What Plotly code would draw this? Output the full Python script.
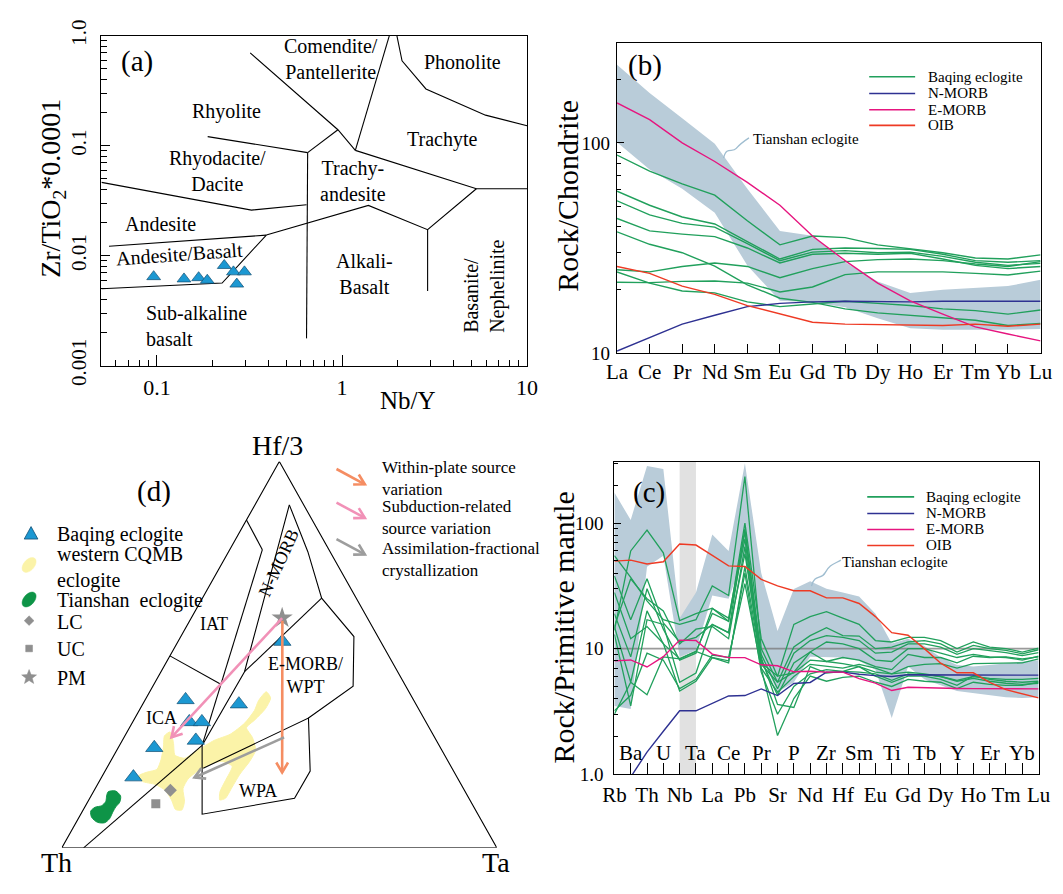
import math
import plotly.graph_objects as go

FONT = "Liberation Serif"
W, H = 1063, 894

# ---------------- (a) Zr/TiO2*0.0001 vs Nb/Y ----------------
a_nb_y = [0.096, 0.140, 0.168, 0.187, 0.231, 0.259, 0.297, 0.270]
a_zr_ti = [0.00645, 0.00615, 0.00631, 0.00598, 0.00815, 0.00713, 0.00713, 0.00552]

a_field_lines = [
    [(0.319, 0.701), (0.95, 0.140), (1.18, 0.0908)],
    [(0.652, 0.0867), (0.95, 0.140)],
    [(1.18, 0.0908), (1.80, 1.0)],
    [(1.98, 1.0), (2.11, 0.593), (2.84, 0.329), (5.96, 0.19), (10.0, 0.152)],
    [(1.18, 0.0908), (5.32, 0.0407), (10.0, 0.0407)],
    [(0.39, 0.0154), (1.388, 0.0287), (2.90, 0.01725), (5.32, 0.0407)],
    [(2.90, 0.01725), (2.90, 0.00477)],
    [(0.652, 0.0867), (0.643, 0.00177)],
    [(0.188, 0.1212), (0.652, 0.0867)],
    [(0.0502, 0.0465), (0.324, 0.0260), (0.643, 0.0291)],
    [(0.0551, 0.01218), (0.39, 0.0154)],
    [(0.0502, 0.0050), (0.225, 0.00564), (0.39, 0.0154)],
]
# (text, Nb/Y, Zr/TiO2, angle, xanchor)
a_field_labels = [
    ("Comendite/<br>Pantellerite", 0.867, 0.617, 0, "center"),
    ("Rhyolite", 0.237, 0.207, 0, "center"),
    ("Phonolite", 4.47, 0.573, 0, "center"),
    ("Trachyte", 3.48, 0.115, 0, "center"),
    ("Rhyodacite/<br>Dacite", 0.212, 0.0588, 0, "center"),
    ("Trachy-<br>andesite", 1.14, 0.0481, 0, "center"),
    ("Andesite", 0.105, 0.0195, 0, "center"),
    ("Andesite/Basalt", 0.132, 0.0103, -4, "center"),
    ("Alkali-<br>Basalt", 1.33, 0.00683, 0, "center"),
    ("Sub-alkaline<br>basalt", 0.0856, 0.00228, 0, "left"),
    ("Basanite/<br>Nephelinite", 5.89, 0.00527, -90, "center"),
]

# ---------------- (b) REE chondrite-normalised ----------------
ree = ["La", "Ce", "Pr", "Nd", "Sm", "Eu", "Gd", "Tb", "Dy", "Ho", "Er", "Tm", "Yb", "Lu"]
b_baqing = [
    [87.5, 73.4, 63.8, 56.4, 42.6, 32.7, 36.0, 35.4, 32.7, 31.3, 30.0, 28.3, 28.0, 29.3],
    [58.9, 50.5, 44.4, 41.1, 33.9, 28.0, 31.1, 31.6, 31.4, 31.1, 29.5, 27.5, 27.0, 27.5],
    [53.0, 45.4, 41.4, 39.7, 33.1, 27.5, 30.2, 30.7, 30.0, 30.2, 28.8, 27.0, 26.1, 26.7],
    [43.7, 38.1, 36.8, 35.8, 31.6, 26.8, 29.5, 29.8, 29.5, 29.8, 28.0, 26.1, 25.2, 25.8],
    [37.7, 32.9, 30.0, 25.9, 21.1, 18.2, 17.4, 16.2, 15.5, 15.1, 14.8, 14.3, 13.5, 13.8],
    [24.9, 24.3, 25.8, 26.8, 25.8, 22.8, 25.2, 27.2, 27.8, 28.0, 27.5, 26.5, 25.8, 27.2],
    [24.3, 21.5, 19.7, 19.3, 17.5, 16.6, 17.1, 17.6, 17.2, 16.8, 16.2, 15.9, 15.3, 16.0],
    [21.7, 21.6, 21.9, 22.0, 21.5, 19.5, 20.6, 23.6, 24.3, 24.3, 24.3, 23.9, 23.5, 24.5],
]
b_nmorb = [10.2, 11.8, 13.7, 15.1, 16.6, 17.2, 17.5, 17.6, 17.5, 17.5, 17.6, 17.6, 17.5, 17.6]
b_emorb = [155, 129, 100, 81.6, 64.9, 50.5, 36.0, 27.5, 21.5, 17.7, 15.3, 13.3, 12.3, 11.4]
b_oib = [25.8, 23.9, 20.8, 19.0, 16.8, 15.4, 14.0, 13.7, 13.6, 13.6, 13.5, 13.7, 13.4, 13.7]
b_tianshan_hi = [236, 173, 131, 99, 60.5, 38.1, 36.1, 27.0, 21.9, 19.3, 20.0, 20.4, 20.8, 22.3]
b_tianshan_lo = [100.7, 74.7, 60.5, 46.5, 26.1, 17.7, 17.4, 16.5, 14.6, 13.1, 12.9, 12.9, 12.9, 13.0]

# ---------------- (c) primitive-mantle spider ----------------
spider = ["Rb", "Ba", "Th", "U", "Nb", "Ta", "La", "Ce", "Pb", "Pr", "Sr", "P", "Nd", "Zr",
          "Hf", "Sm", "Eu", "Ti", "Gd", "Tb", "Dy", "Y", "Ho", "Er", "Tm", "Yb", "Lu"]
c_baqing = [
    [14, 60, 88, 58, 16.7, 19, 21, 16.5, 100, 12, 6.0, 15.6, 18, 19.7, 17.5, 15.6, 11.6, 11.3, 12.3, 12.3, 11.6, 10.0, 11.3, 10.3, 10.0, 9.4, 10.1],
    [55, 37, 24, 17, 15.6, 17, 31.6, 26.5, 235, 10, 5.4, 10.3, 12.7, 14.7, 12.7, 12.6, 10.0, 10.3, 11.3, 11.6, 10.9, 9.4, 10.6, 10.0, 9.7, 9.1, 9.8],
    [38, 17, 36, 16, 11.3, 12.3, 15.6, 13.4, 90, 9.0, 4.8, 9.2, 11.6, 12.7, 12.3, 11.6, 9.2, 9.4, 10.9, 10.9, 10.3, 9.0, 10.0, 9.6, 9.3, 8.8, 9.3],
    [19, 8.6, 30, 14.3, 8.1, 9.2, 20.9, 17.5, 85, 8.1, 4.25, 7.7, 9.4, 11.3, 10.9, 10.0, 8.1, 7.9, 10.0, 10.0, 9.2, 8.5, 9.0, 8.6, 8.5, 8.1, 8.7],
    [15, 5.4, 20, 10.9, 8.3, 9.5, 19.1, 16.5, 75, 7.7, 6.05, 6.4, 8.1, 7.9, 8.5, 8.1, 7.2, 6.8, 9.0, 8.5, 8.5, 7.7, 8.7, 8.5, 8.6, 8.3, 8.6],
    [13, 3.5, 17, 15.6, 5.4, 6.4, 15.6, 13.4, 57, 8.5, 3.6, 3.4, 7.2, 6.4, 6.6, 7.2, 6.05, 5.4, 6.05, 6.05, 5.7, 5.1, 6.05, 5.7, 5.5, 5.4, 5.5],
    [3.2, 4.25, 9.2, 8.1, 4.8, 5.7, 8.9, 8.5, 33, 7.0, 2.03, 4.0, 6.05, 5.5, 5.9, 6.05, 5.4, 5.0, 5.7, 5.5, 5.4, 4.8, 5.4, 5.2, 5.1, 5.1, 5.4],
    [3.0, 5.4, 4.3, 8.6, 8.3, 9.5, 8.5, 7.7, 45, 7.5, 5.4, 6.5, 9.4, 7.9, 7.6, 7.2, 6.5, 6.3, 7.2, 7.5, 7.6, 7.0, 7.6, 7.6, 7.7, 7.7, 8.3],
    [15, 36, 25, 20, 10.9, 14.3, 15, 12, 65, 7.0, 4.5, 6.0, 7.5, 7.2, 7.0, 7.5, 7.0, 6.3, 6.5, 6.3, 6.0, 5.5, 5.8, 5.5, 5.3, 5.2, 5.3],
    [28, 12, 15, 11, 4.6, 5.5, 8.5, 8.0, 40, 6.5, 3.0, 5.0, 6.3, 6.8, 6.6, 6.5, 6.3, 5.6, 6.3, 6.2, 6.0, 5.6, 6.0, 5.8, 5.7, 5.7, 5.8],
]
c_nmorb = [0.6, 0.95, 1.5, 2.2, 3.2, 3.2, 3.66, 4.2, 4.23, 4.78, 4.23, 5.28, 5.38, 6.5, 6.5, 6.25,
           6.1, 6.0, 6.2, 6.2, 6.2, 6.15, 6.15, 6.15, 6.15, 6.15, 6.15]
c_emorb = [7.99, 8.13, 7.14, 8.63, 11.7, 11.6, 9.04, 8.48, 8.48, 7.44, 7.31, 6.54, 6.6, 6.5, 6.5, 5.77,
           5.31, 4.64, 4.92, 4.87, 4.84, 4.82, 4.8, 4.8, 4.8, 4.78, 4.78]
c_oib = [49.8, 50.7, 47.2, 49.2, 68.1, 66.9, 55.4, 45.6, 45.1, 35.6, 31.6, 28.9, 28.9, 25.4, 25.4, 22.9,
         18.0, 13.4, 12.8, 10.0, 7.66, 6.42, 6.42, 5.38, 4.72, 4.37, 4.05]
c_tianshan_hi = [175, 106, 285, 270, 17.5, 28, 81, 60, 300, 40, 13.8, 29.8, 34.5, 30, 28, 26, 19, 11,
                 12, 10.5, 8.5, 7.4, 7.2, 7.4, 7.7, 7.9, 8.1]
c_tianshan_lo = [3.5, 3.3, 45, 55, 8.6, 9.7, 26.5, 25, 57, 8.6, 4.5, 5.4, 8.6, 8.5, 8.5, 8.0, 6.8, 2.8,
                 7.2, 5.7, 5.1, 4.6, 4.4, 4.25, 4.1, 4.05, 4.1]
c_reference_level = 10
c_highlight = ("Nb", "Ta")

# ---------------- (d) Th - Hf/3 - Ta ternary (Th, Hf/3, Ta in %) ----------------
d_baqing = [(52.4, 38.3, 9.3), (40.7, 37.2, 22.1), (54.4, 32.6, 13.0), (51.5, 32.6, 15.9),
            (55.3, 27.8, 16.9), (65.8, 25.9, 8.3), (74.4, 18.3, 7.3), (22.6, 53.4, 24.0)]
d_pm = [(19.6, 59.5, 20.9)]
d_lc = [(67.6, 14.9, 17.5)]
d_uc = [(72.7, 11.4, 15.9)]
d_frame = [(100, 0, 0), (0, 100, 0), (0, 0, 100), (100, 0, 0)]
d_field_lines = [
    [(15.1, 84.9, 0.0), (15.3, 77.2, 7.5)],
    [(15.3, 77.2, 7.5), (54.5, 26.5, 19.0)],
    [(50.3, 49.7, 0.0), (42.2, 42.3, 15.5)],
    [(95.0, 0.0, 5.0), (54.5, 26.5, 19.0)],
    [(3.3, 88.8, 7.9), (5.1, 76.6, 18.2), (7.95, 64.6, 27.4), (5.5, 54.7, 39.8),
     (12.1, 41.8, 46.0), (26.5, 33.6, 39.9)],
    [(3.3, 88.8, 7.9), (35.2, 45.6, 19.2), (54.5, 26.5, 19.0)],
    [(7.95, 64.6, 27.4), (35.2, 45.6, 19.2)],
    [(54.5, 26.5, 19.0), (63.4, 8.7, 27.9), (40.1, 12.8, 47.1), (33.0, 19.9, 47.2),
     (26.5, 33.6, 39.9), (57.2, 20.6, 22.2)],
]
d_cqmb = [(32.8, 40.4, 26.8), (32.6, 38.8, 28.6), (35.2, 36.0, 28.8), (39.1, 33.1, 27.8),
          (42.0, 31.1, 26.9), (41.9, 28.6, 29.5), (42.8, 25.3, 31.9), (45.6, 22.4, 32.0),
          (49.5, 19.1, 31.4), (53.0, 15.7, 31.3), (56.0, 12.8, 31.2), (57.5, 12.4, 30.1),
          (56.4, 14.5, 29.1), (53.7, 17.4, 28.9), (50.3, 21.1, 28.6), (52.0, 22.4, 25.6),
          (55.4, 21.5, 23.1), (58.8, 19.9, 21.3), (62.1, 17.8, 20.1), (64.5, 15.3, 20.2),
          (65.8, 12.0, 22.2), (67.5, 9.8, 22.7), (68.9, 9.9, 21.2), (68.6, 12.4, 19.0),
          (68.8, 14.9, 16.3), (70.3, 16.4, 13.3), (72.9, 17.2, 9.9), (73.1, 18.6, 8.3),
          (70.6, 19.6, 9.8), (68.0, 20.3, 11.7), (65.8, 22.8, 11.4), (63.6, 26.1, 10.3),
          (61.9, 29.0, 9.1), (60.1, 30.0, 9.9), (60.7, 27.3, 12.0), (62.0, 24.0, 14.0),
          (60.2, 23.2, 16.6), (56.1, 25.3, 18.6), (51.1, 27.8, 21.1), (46.6, 29.4, 24.0),
          (41.8, 32.3, 25.9), (37.9, 35.6, 26.5), (36.0, 38.5, 26.4)]
d_tianshan = [(82.1, 14.5, 3.4), (80.3, 14.7, 5.0), (79.8, 13.4, 6.8), (80.8, 11.8, 7.4),
              (82.3, 10.6, 7.1), (83.8, 9.1, 7.1), (85.3, 7.5, 7.2), (86.9, 6.5, 6.6),
              (88.5, 6.6, 4.9), (89.2, 7.9, 2.9), (88.6, 9.5, 1.9), (87.1, 10.5, 2.4),
              (85.4, 10.9, 3.7), (83.9, 12.0, 4.1), (83.0, 13.4, 3.6)]
# arrows: (tail, head)
d_arrow_within_plate = [(19.9, 58.8, 21.3), (39.6, 19.5, 40.9)]
d_arrow_subduction = [(19.6, 59.5, 20.9), (60.5, 28.6, 10.9)]
d_arrow_afc = [(34.6, 28.6, 36.8), (60.4, 18.2, 21.4)]
d_field_labels = [("IAT", (36.0, 58.0, 6.0), 0), ("ICA", (60.2, 33.6, 6.2), 0),
                  ("N-MORB", (13.3, 73.7, 13.0), -65), ("E-MORB/<br>WPT", (21.7, 44.7, 33.6), 0),
                  ("WPA", (47.5, 14.7, 37.8), 0)]

# ---------------- colours ----------------
GREEN = "#21a05c"
NMORB_C = "#2e3192"
EMORB_C = "#e6157f"
OIB_C = "#ee3a24"
BAND_C = "#b9ccd9"
TRI_C = "#1c98d2"
TRI_EDGE = "#134f73"
YELLOW = "#fbf3a8"
DKGREEN = "#0e9447"
GREY = "#8f8f8f"
ORANGE = "#f58d62"
PINK = "#f191b7"
ARROW_GREY = "#9d9d9d"

# pixel boxes of the four panels (left, top, right, bottom)
BOX_A = (91.3, 20.7, 527.0, 364.3)
BOX_B = (619.0, 27.7, 1052.3, 351.0)
BOX_C = (616.3, 464.3, 1050.3, 790.0)
BOX_D = (51.0, 464.3, 496.0, 866.7)


def tern_xy(pts):
    xs, ys = [], []
    for th, hf, ta in pts:
        s = th + hf + ta
        xs.append((ta + hf / 2.0) / s)
        ys.append(hf / s)
    return xs, ys


def pxx(x):
    return x / W


def pxy(y):
    return 1 - y / H


def xdom(box):
    return [box[0] / W, box[2] / W]


def ydom(box):
    return [pxy(box[3]), pxy(box[1])]


fig = go.Figure()

# ===== (a) =====
for seg in a_field_lines:
    fig.add_trace(go.Scatter(x=[p[0] for p in seg], y=[p[1] for p in seg], mode="lines",
                             line=dict(color="black", width=1.1), showlegend=False,
                             hoverinfo="skip", xaxis="x", yaxis="y"))
fig.add_trace(go.Scatter(x=a_nb_y, y=a_zr_ti, mode="markers", showlegend=False,
                         name="Baqing eclogite",
                         marker=dict(symbol="triangle-up", size=12, color=TRI_C,
                                     line=dict(color=TRI_EDGE, width=0.7)),
                         xaxis="x", yaxis="y"))

# ===== (b) =====
bx = list(range(len(ree)))
fig.add_trace(go.Scatter(x=bx + bx[::-1], y=b_tianshan_hi + b_tianshan_lo[::-1], fill="toself",
                         fillcolor=BAND_C, line=dict(width=0), mode="lines", showlegend=False,
                         hoverinfo="skip", xaxis="x2", yaxis="y2"))
for s in b_baqing:
    fig.add_trace(go.Scatter(x=bx, y=s, mode="lines", line=dict(color=GREEN, width=1.4),
                             name="Baqing eclogite", showlegend=False, xaxis="x2", yaxis="y2"))
for s, nm, col in [(b_nmorb, "N-MORB", NMORB_C), (b_emorb, "E-MORB", EMORB_C), (b_oib, "OIB", OIB_C)]:
    fig.add_trace(go.Scatter(x=bx, y=s, mode="lines", line=dict(color=col, width=1.4), name=nm,
                             showlegend=False, xaxis="x2", yaxis="y2"))

# ===== (c) =====
cx = list(range(len(spider)))
fig.add_trace(go.Scatter(x=cx + cx[::-1], y=c_tianshan_hi + c_tianshan_lo[::-1], fill="toself",
                         fillcolor=BAND_C, line=dict(width=0), mode="lines", showlegend=False,
                         hoverinfo="skip", xaxis="x3", yaxis="y3"))
fig.add_trace(go.Scatter(x=[cx[0], cx[-1]], y=[c_reference_level] * 2, mode="lines",
                         line=dict(color="rgba(120,120,120,0.75)", width=1.6), showlegend=False,
                         hoverinfo="skip", xaxis="x3", yaxis="y3"))
for s in c_baqing:
    fig.add_trace(go.Scatter(x=cx, y=s, mode="lines", line=dict(color=GREEN, width=1.3),
                             name="Baqing eclogite", showlegend=False, xaxis="x3", yaxis="y3"))
for s, nm, col in [(c_nmorb, "N-MORB", NMORB_C), (c_emorb, "E-MORB", EMORB_C), (c_oib, "OIB", OIB_C)]:
    fig.add_trace(go.Scatter(x=cx, y=s, mode="lines", line=dict(color=col, width=1.4), name=nm,
                             showlegend=False, xaxis="x3", yaxis="y3"))

# ===== (d) =====
xs, ys = tern_xy(d_cqmb)
fig.add_trace(go.Scatter(x=xs + xs[:1], y=ys + ys[:1], fill="toself", fillcolor=YELLOW,
                         line=dict(color=YELLOW, width=1, shape="spline", smoothing=0.6),
                         mode="lines", showlegend=False, hoverinfo="skip", xaxis="x4", yaxis="y4"))
xs, ys = tern_xy(d_tianshan)
fig.add_trace(go.Scatter(x=xs + xs[:1], y=ys + ys[:1], fill="toself", fillcolor=DKGREEN,
                         line=dict(color=DKGREEN, width=1, shape="spline", smoothing=0.8),
                         mode="lines", showlegend=False, hoverinfo="skip", xaxis="x4", yaxis="y4"))
for seg in d_field_lines + [d_frame]:
    xs, ys = tern_xy(seg)
    fig.add_trace(go.Scatter(x=xs, y=ys, mode="lines", line=dict(color="black", width=1.1),
                             showlegend=False, hoverinfo="skip", xaxis="x4", yaxis="y4"))
for pts, nm, sym, sz in [(d_lc, "LC", "diamond", 10), (d_uc, "UC", "square", 9),
                         (d_pm, "PM", "star", 16)]:
    xs, ys = tern_xy(pts)
    fig.add_trace(go.Scatter(x=xs, y=ys, mode="markers", name=nm, showlegend=False,
                             marker=dict(symbol=sym, size=sz, color=GREY),
                             xaxis="x4", yaxis="y4"))

annotations = []
shapes = []


def ann(**kw):
    base = dict(showarrow=False, xanchor="center", yanchor="middle",
                font=dict(family=FONT, size=20, color="black"))
    if "font" in kw:
        f = dict(base["font"])
        f.update(kw.pop("font"))
        base["font"] = f
    base.update(kw)
    annotations.append(base)


def arrow(x0, y0, x1, y1, col, xref, yref, sx, sy, head=12.0, spread=30.0, width=2.6):
    """Line with an open V head; sx, sy = pixels per unit along x / y."""
    shapes.append(dict(type="line", xref=xref, yref=yref, x0=x0, y0=y0, x1=x1, y1=y1,
                       line=dict(color=col, width=width)))
    dxp, dyp = (x1 - x0) * sx, (y1 - y0) * sy
    L = math.hypot(dxp, dyp)
    ux, uy = -dxp / L, -dyp / L
    pts = []
    for sgn in (1, -1):
        a = math.radians(spread * sgn)
        vx = ux * math.cos(a) - uy * math.sin(a)
        vy = ux * math.sin(a) + uy * math.cos(a)
        pts.append((x1 + head * vx / sx, y1 + head * vy / sy))
    path = "M {},{} L {},{} L {},{}".format(pts[0][0], pts[0][1], x1, y1, pts[1][0], pts[1][1])
    shapes.append(dict(type="path", xref=xref, yref=yref, path=path,
                       line=dict(color=col, width=width)))


# arrows in (d) (data space of the ternary panel)
SX4, SY4 = BOX_D[2] - BOX_D[0], BOX_D[3] - BOX_D[1]
for (tail, head), col in [(d_arrow_subduction, PINK), (d_arrow_within_plate, ORANGE),
                          (d_arrow_afc, ARROW_GREY)]:
    (tx,), (ty,) = tern_xy([tail])
    (hx,), (hy,) = tern_xy([head])
    arrow(tx, ty, hx, hy, col, "x4", "y4", SX4, SY4)

# Baqing triangles on top of the arrows
xs, ys = tern_xy(d_baqing)
fig.add_trace(go.Scatter(x=xs, y=ys, mode="markers", name="Baqing eclogite", showlegend=False,
                         marker=dict(symbol="triangle-up", size=15, color=TRI_C,
                                     line=dict(color=TRI_EDGE, width=0.7)),
                         xaxis="x4", yaxis="y4"))

# (a) texts
for t, x, y, ang, xa in a_field_labels:
    ann(text=t, x=math.log10(x), y=math.log10(y), xref="x", yref="y", textangle=ang, xanchor=xa,
        align="left" if (xa == "left" or ang == -90) else "center")
ann(text="(a)", x=pxx(128), y=pxy(47), xref="paper", yref="paper", font=dict(size=29))
ann(text="Zr/TiO<sub>2</sub>*0.0001", x=pxx(42), y=pxy(180), xref="paper", yref="paper",
    textangle=-90, font=dict(size=28))
ann(text="Nb/Y", x=pxx(405), y=pxy(401), xref="paper", yref="paper", font=dict(size=25))

# (b) texts
ann(text="(b)", x=pxx(648), y=pxy(52), xref="paper", yref="paper", font=dict(size=29))
ann(text="Rock/Chondrite", x=pxx(568), y=pxy(187), xref="paper", yref="paper", textangle=-90,
    font=dict(size=30))
ann(text="Tianshan eclogite", x=pxx(756), y=pxy(128), xref="paper", yref="paper",
    xanchor="left", font=dict(size=15))

# (c) texts
ann(text="(c)", x=pxx(652), y=pxy(497), xref="paper", yref="paper", font=dict(size=29))
ann(text="Rock/Primitive mantle", x=pxx(564), y=pxy(637), xref="paper", yref="paper",
    textangle=-90, font=dict(size=30))
ann(text="Tianshan eclogite", x=pxx(847), y=pxy(569), xref="paper", yref="paper",
    xanchor="left", font=dict(size=15))
for i, el in enumerate(spider):
    if i % 2 == 1:
        ann(text=el, x=i, y=pxy(768), xref="x3", yref="paper", font=dict(size=21))

# legends of (b) and (c), drawn as line keys + text
legend_items = [("Baqing eclogite", GREEN), ("N-MORB", NMORB_C), ("E-MORB", EMORB_C), ("OIB", OIB_C)]
for (x0, x1, xt, rows) in [(877, 924, 935, [63.3, 80.7, 97.7, 114.0]),
                           (875, 923, 933, [501.0, 518.3, 535.0, 551.7])]:
    for (name, col), ry in zip(legend_items, rows):
        shapes.append(dict(type="line", xref="paper", yref="paper", x0=pxx(x0), x1=pxx(x1),
                           y0=pxy(ry), y1=pxy(ry), line=dict(color=col, width=1.6)))
        ann(text=name, x=pxx(xt), y=pxy(ry), xref="paper", yref="paper", xanchor="left",
            font=dict(size=15))

# (d) texts
for t, pt, ang in d_field_labels:
    (x,), (y,) = tern_xy([pt])
    ann(text=t, x=x, y=y, xref="x4", yref="y4", textangle=ang, font=dict(size=18))
ann(text="(d)", x=pxx(145), y=pxy(495), xref="paper", yref="paper", font=dict(size=29))
ann(text="Hf/3", x=pxx(272), y=pxy(448), xref="paper", yref="paper", font=dict(size=28))
ann(text="Th", x=pxx(46), y=pxy(882), xref="paper", yref="paper", font=dict(size=28))
ann(text="Ta", x=pxx(495), y=pxy(882), xref="paper", yref="paper", font=dict(size=28))

arrow_legend = [(ORANGE, 488, "Within-plate source<br>variation", 482),
                (PINK, 523, "Subduction-related<br>source variation", 523),
                (ARROW_GREY, 561, "Assimilation-fractional<br>crystallization", 566)]
for col, hy, txt, ty in arrow_legend:
    arrow(pxx(332), pxy(hy - 16), pxx(361), pxy(hy), col, "paper", "paper", W, H)
    ann(text=txt, x=pxx(377), y=pxy(ty), xref="paper", yref="paper", xanchor="left",
        align="left", font=dict(size=17))


# (d) legend: symbol keys drawn as small paper-space paths
def path_px(points):
    return "M " + " L ".join("{},{}".format(pxx(x), pxy(y)) for x, y in points) + " Z"


def ellipse_path(cx0, cy0, a, b, ang_deg):
    k = 0.5523
    t = math.radians(ang_deg)

    def tr(u, v):
        return (cx0 + u * math.cos(t) - v * math.sin(t), cy0 - (u * math.sin(t) + v * math.cos(t)))

    segs = [((a, 0), (a, k * b), (k * a, b), (0, b)),
            ((0, b), (-k * a, b), (-a, k * b), (-a, 0)),
            ((-a, 0), (-a, -k * b), (-k * a, -b), (0, -b)),
            ((0, -b), (k * a, -b), (a, -k * b), (a, 0))]
    p0 = tr(*segs[0][0])
    s = "M {},{}".format(pxx(p0[0]), pxy(p0[1]))
    for _, c1, c2, e in segs:
        q = [tr(*c1), tr(*c2), tr(*e)]
        s += " C " + " ".join("{},{}".format(pxx(x), pxy(y)) for x, y in q)
    return s + " Z"


def star_pts(cx0, cy0, ro, ri):
    pts = []
    for i in range(10):
        r = ro if i % 2 == 0 else ri
        a = math.radians(90 - 36 * i)
        pts.append((cx0 + r * math.cos(a), cy0 - r * math.sin(a)))
    return pts


shapes.append(dict(type="path", xref="paper", yref="paper",
                   path=path_px([(12.5, 545), (26.5, 545), (19.5, 532)]),
                   fillcolor=TRI_C, line=dict(color=TRI_EDGE, width=0.8)))
shapes.append(dict(type="path", xref="paper", yref="paper",
                   path=ellipse_path(17.5, 572, 9, 5.5, 50), fillcolor=YELLOW,
                   line=dict(color=YELLOW, width=0.5)))
shapes.append(dict(type="path", xref="paper", yref="paper",
                   path=ellipse_path(17.5, 608, 9, 5.5, 50), fillcolor=DKGREEN,
                   line=dict(color=DKGREEN, width=0.5)))
shapes.append(dict(type="path", xref="paper", yref="paper",
                   path=path_px([(17.5, 625), (22.5, 630), (17.5, 635), (12.5, 630)]),
                   fillcolor=GREY, line=dict(color=GREY, width=0.5)))
shapes.append(dict(type="path", xref="paper", yref="paper",
                   path=path_px([(14, 655.5), (21, 655.5), (21, 662.5), (14, 662.5)]),
                   fillcolor=GREY, line=dict(color=GREY, width=0.5)))
shapes.append(dict(type="path", xref="paper", yref="paper", path=path_px(star_pts(17.5, 689, 8, 3.4)),
                   fillcolor=GREY, line=dict(color=GREY, width=0.5)))
for txt, ty in [("Baqing eclogite", 540), ("western CQMB<br>eclogite", 575),
                ("Tianshan\u00a0 eclogite", 609), ("LC", 631), ("UC", 660), ("PM", 690)]:
    ann(text=txt, x=pxx(44), y=pxy(ty), xref="paper", yref="paper", xanchor="left",
        align="left", font=dict(size=20))


def wave(pts):
    p = [(pxx(x), pxy(y)) for x, y in pts]
    return ("M {},{} C {},{} {},{} {},{} S {},{} {},{}".format(
        p[0][0], p[0][1], p[1][0], p[1][1], p[2][0], p[2][1], p[3][0], p[3][1],
        p[4][0], p[4][1], p[5][0], p[5][1]))


shapes.append(dict(type="path", xref="paper", yref="paper", line=dict(color="#9fbdd0", width=1.3),
                   path=wave([(728, 148), (731, 135), (737, 143), (741, 138), (748, 131), (754, 127)])))
shapes.append(dict(type="path", xref="paper", yref="paper", line=dict(color="#9fbdd0", width=1.3),
                   path=wave([(818, 594), (821, 581), (828, 588), (832, 580), (841, 571), (848, 567)])))
i0, i1 = spider.index(c_highlight[0]), spider.index(c_highlight[1])
shapes.append(dict(type="rect", xref="x3", yref="y3 domain", x0=i0, x1=i1, y0=0, y1=1,
                   fillcolor="rgba(200,200,200,0.55)", line=dict(width=0), layer="below"))

axis_common = dict(showline=True, linecolor="black", linewidth=1.2, mirror=True, showgrid=False,
                   zeroline=False, ticks="inside", tickcolor="black",
                   tickfont=dict(family=FONT, size=21, color="black"))


def dec_minor(decades):
    out = []
    for d in decades:
        out += [m * 10 ** d for m in range(2, 10)]
    return out


fig.update_layout(
    width=W, height=H, margin=dict(l=0, r=0, t=0, b=0), paper_bgcolor="white",
    plot_bgcolor="white", font=dict(family=FONT, color="black"), showlegend=False,
    xaxis=dict(axis_common, type="log", domain=xdom(BOX_A), range=[math.log10(0.05), 1],
               tickvals=[0.1, 1, 10], ticktext=["0.1", "1", "10"], ticklen=11,
               tickfont=dict(family=FONT, size=22), anchor="y", ticklabelstandoff=2,
               minor=dict(tickvals=[v for v in dec_minor([-2, -1, 0]) if v > 0.05], ticks="inside",
                          ticklen=6, tickcolor="black")),
    yaxis=dict(axis_common, type="log", domain=ydom(BOX_A), range=[-3, 0],
               tickvals=[0.001, 0.01, 0.1, 1], ticktext=["0.001", "0.01", "0.1", "1.0"],
               tickangle=-90, ticklen=9, tickfont=dict(family=FONT, size=21), anchor="x",
               ticklabelstandoff=6,
               minor=dict(tickvals=dec_minor([-3, -2, -1]), ticks="inside", ticklen=6,
                          tickcolor="black")),
    xaxis2=dict(axis_common, domain=xdom(BOX_B), range=[0, len(ree) - 1],
                tickvals=bx, ticktext=ree, ticklen=9, anchor="y2", ticklabelstandoff=0),
    yaxis2=dict(axis_common, type="log", domain=ydom(BOX_B), range=[1, 2.478],
                tickvals=[10, 100], ticktext=["10", "100"], ticklen=7, anchor="x2",
                tickfont=dict(family=FONT, size=19), ticklabelstandoff=2,
                minor=dict(tickvals=dec_minor([1]) + [200], ticks="inside", ticklen=4,
                           tickcolor="black")),
    xaxis3=dict(axis_common, domain=xdom(BOX_C), range=[0, len(spider) - 1],
                tickvals=cx[::2], ticktext=spider[::2], ticklen=11, anchor="y3",
                ticklabelstandoff=2,
                minor=dict(tickvals=cx[1::2], ticks="inside", ticklen=11, tickcolor="black")),
    yaxis3=dict(axis_common, type="log", domain=ydom(BOX_C), range=[0, 2.49],
                tickvals=[1, 10, 100], ticktext=["1.0", "10", "100"], ticklen=7, anchor="x3",
                tickfont=dict(family=FONT, size=19), ticklabelstandoff=6,
                minor=dict(tickvals=dec_minor([0, 1]) + [200, 300], ticks="inside", ticklen=4,
                           tickcolor="black")),
    xaxis4=dict(domain=xdom(BOX_D), range=[0, 1], visible=False, anchor="y4"),
    yaxis4=dict(domain=ydom(BOX_D), range=[0, 1], visible=False, anchor="x4"),
    annotations=annotations,
    shapes=shapes,
)

fig.write_html("out.html")
